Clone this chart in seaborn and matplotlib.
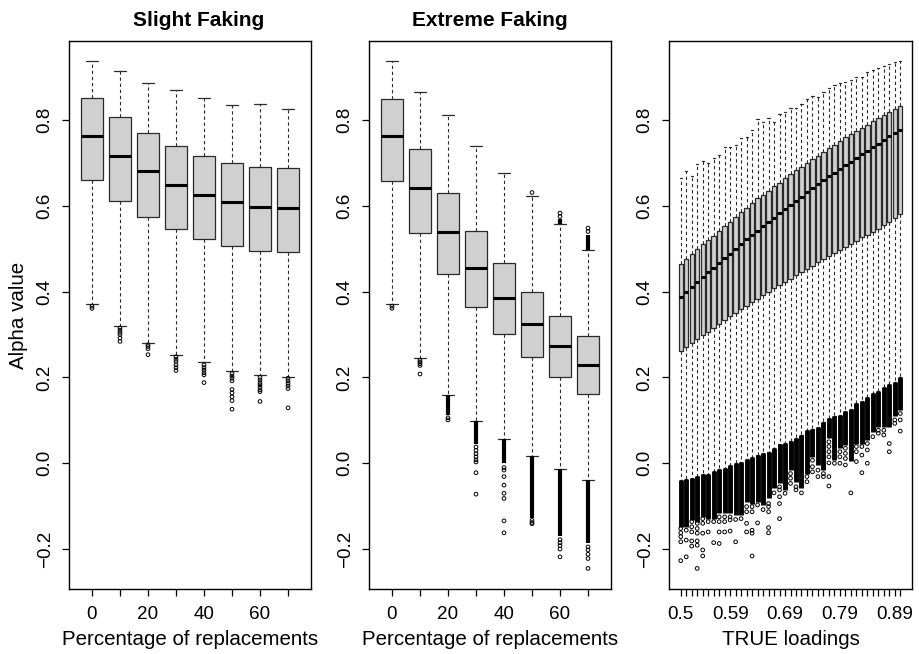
import numpy as np
import pandas as pd
import seaborn as sns
import matplotlib
matplotlib.use("Agg")
import matplotlib.pyplot as plt

# ---- data ----
pct_labels = ["0", "10", "20", "30", "40", "50", "60", "70"]

# Slight Faking: five-number summaries per box
slight_whis_hi = [0.938, 0.913, 0.886, 0.869, 0.852, 0.836, 0.838, 0.825]
slight_q3 = [0.851, 0.806, 0.770, 0.740, 0.717, 0.700, 0.690, 0.688]
slight_med = [0.763, 0.717, 0.680, 0.649, 0.625, 0.608, 0.598, 0.596]
slight_q1 = [0.659, 0.612, 0.575, 0.545, 0.522, 0.506, 0.495, 0.492]
slight_whis_lo = [0.372, 0.320, 0.281, 0.252, 0.235, 0.214, 0.205, 0.202]
slight_fliers = [
    [0.366, 0.361],
    [0.315, 0.310, 0.305, 0.300, 0.292, 0.284],
    [0.276, 0.272, 0.267, 0.253],
    [0.248, 0.242, 0.237, 0.229, 0.223, 0.216],
    [0.229, 0.223, 0.217, 0.211, 0.206, 0.188],
    [0.209, 0.203, 0.198, 0.192, 0.172, 0.164, 0.155, 0.146, 0.126],
    [0.200, 0.194, 0.188, 0.183, 0.177, 0.171, 0.167, 0.144],
    [0.198, 0.192, 0.186, 0.180, 0.174, 0.129],
]

# Extreme Faking
extreme_whis_hi = [0.938, 0.866, 0.812, 0.739, 0.677, 0.622, 0.557, 0.496]
extreme_q3 = [0.850, 0.732, 0.630, 0.542, 0.466, 0.399, 0.343, 0.296]
extreme_med = [0.763, 0.641, 0.540, 0.456, 0.386, 0.324, 0.273, 0.230]
extreme_q1 = [0.658, 0.537, 0.441, 0.365, 0.301, 0.247, 0.200, 0.161]
extreme_whis_lo = [0.372, 0.245, 0.159, 0.099, 0.056, 0.018, -0.014, -0.039]
# runs of outliers so dense they print as a solid bar: (box, from, to)
extreme_dense = [(3, 0.159, 0.112), (4, 0.099, 0.045), (5, 0.056, 0.000),
                 (6, 0.018, -0.128), (7, -0.014, -0.170), (8, -0.039, -0.185),
                 (7, 0.558, 0.570), (8, 0.498, 0.533)]
extreme_fliers = [
    [0.366, 0.361],
    [0.240, 0.236, 0.232, 0.228, 0.208],
    [0.106, 0.101],
    [0.038, 0.030, 0.022, 0.015, 0.008, 0.003, -0.022, -0.072],
    [-0.010, -0.016, -0.031, -0.051, -0.070, -0.082, -0.134, -0.162],
    [0.631, -0.133, -0.138, -0.141],
    [0.575, 0.583, -0.178, -0.185, -0.192, -0.200, -0.218],
    [0.540, 0.548, -0.195, -0.202, -0.212, -0.222, -0.245],
]

# TRUE loadings
loading_labels = ["0.5", "0.51", "0.52", "0.53", "0.54", "0.55", "0.56", "0.57",
                  "0.58", "0.59", "0.6", "0.61", "0.62", "0.63", "0.64", "0.65",
                  "0.66", "0.67", "0.68", "0.69", "0.7", "0.71", "0.72", "0.73",
                  "0.74", "0.75", "0.76", "0.77", "0.78", "0.79", "0.8", "0.81",
                  "0.82", "0.83", "0.84", "0.85", "0.86", "0.87", "0.88", "0.89", "0.9"]
true_whis_hi = [0.665, 0.680, 0.669, 0.698, 0.704, 0.700, 0.711, 0.719, 0.738, 0.736,
                0.742, 0.757, 0.760, 0.777, 0.802, 0.796, 0.805, 0.796, 0.813, 0.819,
                0.829, 0.828, 0.837, 0.850, 0.856, 0.854, 0.864, 0.874, 0.882, 0.885,
                0.888, 0.893, 0.899, 0.901, 0.912, 0.917, 0.922, 0.926, 0.931, 0.934, 0.938]
true_q3 = [0.464, 0.476, 0.487, 0.499, 0.510, 0.520, 0.530, 0.541, 0.553, 0.563,
           0.575, 0.585, 0.596, 0.606, 0.617, 0.626, 0.635, 0.645, 0.654, 0.664,
           0.674, 0.683, 0.691, 0.700, 0.708, 0.717, 0.726, 0.735, 0.742, 0.751,
           0.760, 0.767, 0.775, 0.782, 0.789, 0.798, 0.805, 0.812, 0.819, 0.826, 0.833]
true_med = [0.387, 0.398, 0.411, 0.422, 0.433, 0.445, 0.455, 0.466, 0.478, 0.488,
            0.499, 0.510, 0.522, 0.532, 0.541, 0.552, 0.563, 0.572, 0.583, 0.593,
            0.602, 0.612, 0.621, 0.631, 0.641, 0.650, 0.659, 0.669, 0.677, 0.686,
            0.695, 0.703, 0.712, 0.721, 0.728, 0.737, 0.745, 0.754, 0.762, 0.769, 0.776]
true_q1 = [0.262, 0.271, 0.280, 0.289, 0.298, 0.307, 0.316, 0.325, 0.335, 0.344,
           0.351, 0.359, 0.367, 0.376, 0.383, 0.391, 0.400, 0.408, 0.415, 0.422,
           0.430, 0.439, 0.446, 0.453, 0.460, 0.468, 0.476, 0.483, 0.489, 0.497,
           0.503, 0.511, 0.519, 0.527, 0.533, 0.540, 0.547, 0.555, 0.563, 0.571, 0.581]
true_whis_lo = [-0.039, -0.037, -0.034, -0.029, -0.026, -0.024, -0.018, -0.014, -0.010, -0.004,
                0.000, 0.003, 0.011, 0.014, 0.019, 0.023, 0.027, 0.036, 0.044, 0.048,
                0.052, 0.060, 0.066, 0.077, 0.081, 0.085, 0.097, 0.105, 0.110, 0.112,
                0.122, 0.126, 0.140, 0.145, 0.155, 0.164, 0.168, 0.177, 0.185, 0.190, 0.202]
# lower end of the solid run of outliers under each whisker
true_dense_lo = [-0.148, -0.148, -0.132, -0.136, -0.125, -0.129, -0.129, -0.117, -0.117, -0.117,
                 -0.121, -0.121, -0.090, -0.094, -0.090, -0.097, -0.082, -0.058, -0.047, -0.062,
                 -0.016, -0.043, -0.058, -0.024, 0.015, -0.004, -0.016, 0.058, 0.007, 0.035,
                 0.043, 0.005, 0.046, 0.046, 0.054, 0.074, 0.085, 0.085, 0.085, 0.109, 0.124]
true_fliers = [
    [-0.152, -0.162, -0.171, -0.183, -0.227], [-0.156, -0.179, -0.218],
    [-0.136, -0.148, -0.160, -0.181, -0.193], [-0.140, -0.152, -0.163, -0.181, -0.191, -0.245],
    [-0.129, -0.140, -0.163, -0.202, -0.216], [-0.136, -0.160], [-0.136, -0.185],
    [-0.125, -0.136, -0.160, -0.187], [-0.125, -0.136, -0.160], [-0.125, -0.132, -0.158],
    [-0.131, -0.183], [-0.129], [-0.101, -0.113, -0.140, -0.160],
    [-0.101, -0.113, -0.156, -0.163, -0.216], [-0.097, -0.139], [-0.108],
    [-0.094, -0.101, -0.113, -0.150, -0.162], [-0.069], [-0.055, -0.062, -0.078, -0.094, -0.129],
    [-0.070], [-0.024, -0.035, -0.047], [-0.055, -0.062], [-0.069], [-0.031, -0.043],
    [0.007, -0.008, -0.020], [-0.016, -0.031], [-0.024, -0.031],
    [0.050, 0.039, 0.027, 0.015, 0.001, -0.031, -0.053], [0.000], [0.027, 0.015, 0.000],
    [0.035, 0.023, 0.011, -0.004], [-0.069], [0.039, 0.027, 0.004], [0.039, 0.019, -0.022],
    [0.046, 0.031, 0.000], [0.062], [0.077, 0.070], [0.077, 0.066], [0.046, 0.027],
    [0.101, 0.093], [0.116, 0.101, 0.075],
]

y_ticks = [-0.2, 0.0, 0.2, 0.4, 0.6, 0.8]

# ---- style ----
sns.set_theme(style="ticks")
plt.rcParams["font.family"] = ["Liberation Sans", "DejaVu Sans"]
plt.rcParams["axes.linewidth"] = 1.0
plt.rcParams["text.color"] = "black"

BOX_FILL = "#d0d0d0"
EDGE = "#2a2a2a"
YLIM = (-0.293, 0.984)


def draw_panel(ax, whis_hi, q3, med, q1, whis_lo, fliers, dense, labels, shown, dense_lw=3.0):
    n = len(med)
    pos = np.arange(1, n + 1)
    stats = [dict(med=m, q1=a, q3=b, whislo=lo, whishi=hi, fliers=[])
             for m, a, b, lo, hi in zip(med, q1, q3, whis_lo, whis_hi)]
    ax.bxp(stats, positions=pos, widths=0.8, patch_artist=True, showfliers=False,
           manage_ticks=False,
           boxprops=dict(facecolor=BOX_FILL, edgecolor=EDGE, linewidth=0.9),
           medianprops=dict(color="black", linewidth=2.2, solid_capstyle="butt"),
           whiskerprops=dict(color=EDGE, linewidth=0.8, linestyle=(0, (3, 2.5))),
           capprops=dict(color=EDGE, linewidth=0.9))

    # dense runs of outliers
    for box, top, bottom in dense:
        ax.vlines(box, bottom, top, colors="black", linewidth=dense_lw, zorder=3)

    # single outliers (open circles)
    df_out = pd.DataFrame([(i + 1, v) for i, vals in enumerate(fliers) for v in vals],
                          columns=["pos", "value"])
    sns.scatterplot(data=df_out, x="pos", y="value", ax=ax, marker="o", s=7,
                    facecolor="none", edgecolor="black", linewidth=0.7, zorder=4,
                    legend=False)

    ax.set_xlim(0.5 - 0.04 * n, n + 0.5 + 0.04 * n)
    ax.set_ylim(*YLIM)
    ax.set_xticks(pos)
    ax.set_xticklabels([lab if i in shown else "" for i, lab in enumerate(labels)])
    ax.set_yticks(y_ticks)
    ax.set_yticklabels(["\u22120.2", "0.0", "0.2", "0.4", "0.6", "0.8"])
    for lab in ax.get_yticklabels():
        lab.set_rotation(90)
        lab.set_va("center")
    ax.tick_params(axis="both", direction="out", length=5, width=0.9, color="black",
                   labelsize=13.6, labelcolor="black")
    ax.tick_params(axis="x", pad=7)
    ax.tick_params(axis="y", pad=6)
    for sp in ax.spines.values():
        sp.set_visible(True)
        sp.set_color("black")
        sp.set_linewidth(1.0)
    ax.set_xlabel("")
    ax.set_ylabel("")


fig = plt.figure(figsize=(9.19, 6.54), dpi=100)
W, H = 919.0, 654.0
bottom = 65 / H
height = 548 / H
ax1 = fig.add_axes([69 / W, bottom, 242 / W, height])
ax2 = fig.add_axes([369 / W, bottom, 242 / W, height])
ax3 = fig.add_axes([669 / W, bottom, 243 / W, height])

draw_panel(ax1, slight_whis_hi, slight_q3, slight_med, slight_q1, slight_whis_lo,
           slight_fliers, [], pct_labels, {0, 2, 4, 6})
draw_panel(ax2, extreme_whis_hi, extreme_q3, extreme_med, extreme_q1, extreme_whis_lo,
           extreme_fliers, extreme_dense, pct_labels, {0, 2, 4, 6})
true_dense = [(i + 1, hi, lo) for i, (hi, lo) in enumerate(zip(true_whis_lo, true_dense_lo))]
draw_panel(ax3, true_whis_hi, true_q3, true_med, true_q1, true_whis_lo,
           true_fliers, true_dense, loading_labels, {0, 9, 19, 29, 39}, dense_lw=3.5)

for ax, xl in [(ax1, "Percentage of replacements"), (ax2, "Percentage of replacements"),
               (ax3, "TRUE loadings")]:
    ax.set_xlabel(xl, fontsize=14.8, color="black")
    ax.xaxis.set_label_coords(0.5, -0.093)
    ax.xaxis.label.set_va("center")

ax1.set_ylabel("Alpha value", fontsize=14.8, color="black")
ax1.yaxis.set_label_coords(-0.21, 0.5)
ax1.yaxis.label.set_va("center")

ax1.set_title("Slight Faking", fontsize=15, fontweight="bold", pad=11, color="black", x=0.537)
ax2.set_title("Extreme Faking", fontsize=15, fontweight="bold", pad=11, color="black")

fig.savefig("out.png", dpi=100)
